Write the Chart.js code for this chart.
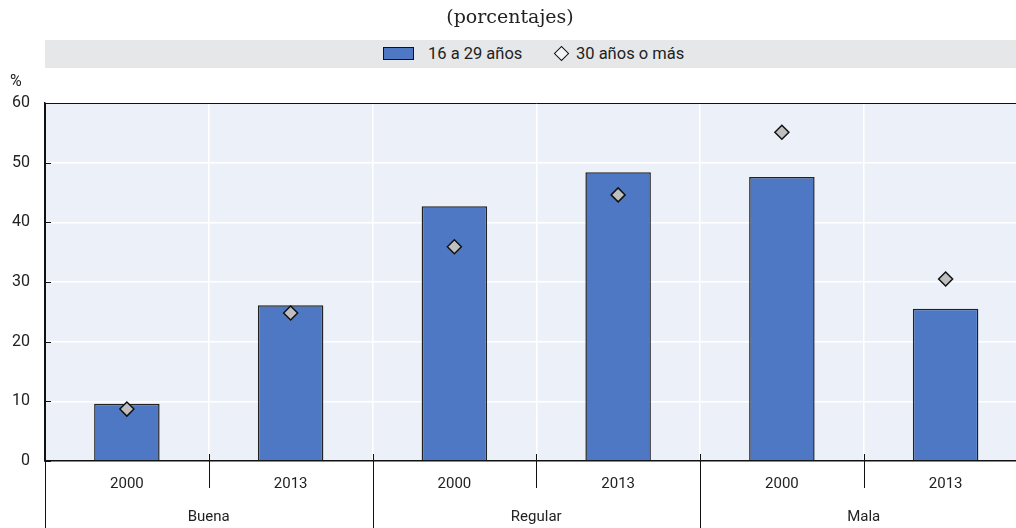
<!DOCTYPE html>
<html>
<head>
<meta charset="utf-8">
<script src="https://cdn.jsdelivr.net/npm/chart.js@4.4.1/dist/chart.umd.min.js"></script>
<style>
  html, body { margin: 0; padding: 0; background: #fff; overflow: hidden; }
  #wrap { position: relative; width: 1016px; height: 528px; overflow: hidden; }
  #title { position: absolute; top: 5px; left: 0; width: 1020px; text-align: center;
    font-family: 'DejaVu Serif', serif; font-size: 19px; color: #222; }
  #legend { position: absolute; top: 40px; left: 45px; width: 971px; height: 28px; background: #e6e7e9;
    font-family: Roboto, 'Liberation Sans', sans-serif; font-size: 16.5px; color: #222; }
  .item { position: absolute; top: 4px; line-height: 19px; }
  .box { position: absolute; left: 383px; top: 47px; width: 29px; height: 11px; background: #4e78c4; border: 1px solid #111; }
  .dia { position: absolute; left: 556px; top: 48px; width: 9px; height: 9px; border: 1.5px solid #111; transform: rotate(45deg); background: #f4f4f4; }
  #chartBox { position: absolute; top: 0; left: 0; width: 1036px; height: 528px; }
</style>
</head>
<body>
<div id="wrap">
  <div id="chartBox"><canvas id="chart"></canvas></div>
  <div id="title">(porcentajes)</div>
  <div id="legend">
    <span class="item" style="left:383px">16 a 29 años</span>
    <span class="item" style="left:531px">30 años o más</span>
  </div>
  <div class="box"></div>
  <div class="dia"></div>
</div>
<script>
const years = ['2000', '2013', '2000', '2013', '2000', '2013'];
const groups = ['Buena', 'Regular', 'Mala'];
const youngValues = [9.6, 26.1, 42.7, 48.4, 47.6, 25.5];
const olderValues = [8.7, 24.8, 35.9, 44.6, 55.1, 30.5];
const yTicks = [0, 10, 20, 30, 40, 50, 60];

// legend boxes sit over the band, so shift the text after them
document.querySelectorAll('.item')[0].style.left = (428 - 45) + 'px';
document.querySelectorAll('.item')[1].style.left = (576 - 45) + 'px';

const groupPlugin = {
  id: 'groupPlugin',
  afterDraw(chart) {
    const { ctx, chartArea, scales } = chart;
    const x = scales.x;
    const half = (x.getPixelForValue(1) - x.getPixelForValue(0)) / 2;
    ctx.save();
    ctx.strokeStyle = '#111';
    ctx.lineWidth = 1;
    // top border
    ctx.beginPath();
    ctx.moveTo(chartArea.left, chartArea.top + 0.5);
    ctx.lineTo(chartArea.right, chartArea.top + 0.5);
    ctx.stroke();
    // left axis down to bottom of canvas
    ctx.beginPath();
    ctx.moveTo(chartArea.left + 0.5, chartArea.top);
    ctx.lineTo(chartArea.left + 0.5, chart.height);
    ctx.stroke();
    // small y ticks inside the plot
    yTicks.forEach(v => {
      const py = Math.round(scales.y.getPixelForValue(v)) + 0.5;
      ctx.beginPath();
      ctx.moveTo(chartArea.left, py);
      ctx.lineTo(chartArea.left + 6, py);
      ctx.stroke();
    });
    // separators below the axis
    for (let i = 0; i < years.length - 1; i++) {
      const px = Math.round(x.getPixelForValue(i) + half) + 0.5;
      const isGroup = i % 2 === 1;
      ctx.beginPath();
      ctx.moveTo(px, chartArea.bottom - 7);
      ctx.lineTo(px, isGroup ? chart.height : chartArea.bottom + 27);
      ctx.stroke();
    }
    // group labels
    ctx.fillStyle = '#222';
    ctx.font = '15px Roboto, "Liberation Sans", sans-serif';
    ctx.textAlign = 'center';
    ctx.textBaseline = 'middle';
    groups.forEach((g, i) => {
      const cx = (x.getPixelForValue(i * 2) + x.getPixelForValue(i * 2 + 1)) / 2;
      ctx.fillText(g, cx, 517);
    });
    // y unit
    ctx.textAlign = 'left';
    ctx.font = '16px Roboto, "Liberation Sans", sans-serif';
    ctx.fillText('%', 10, 82);
    ctx.restore();
  }
};

const bgPlugin = {
  id: 'bgPlugin',
  beforeDraw(chart) {
    const { ctx, chartArea } = chart;
    ctx.save();
    ctx.fillStyle = '#ecf0f9';
    ctx.fillRect(chartArea.left, chartArea.top, chartArea.right - chartArea.left, chartArea.bottom - chartArea.top);
    ctx.restore();
  }
};

new Chart(document.getElementById('chart'), {
  data: {
    labels: years,
    datasets: [
      {
        type: 'line',
        label: '30 años o más',
        data: olderValues,
        showLine: false,
        pointStyle: 'rectRot',
        pointRadius: 7,
        pointHoverRadius: 7,
        pointBackgroundColor: '#bfbfbf',
        pointBorderColor: '#111',
        pointBorderWidth: 1.5,
        order: 0
      },
      {
        type: 'bar',
        label: '16 a 29 años',
        data: youngValues,
        backgroundColor: '#4e78c4',
        borderColor: '#222',
        borderWidth: 1.5,
        barPercentage: 0.4,
        categoryPercentage: 1,
        order: 1
      }
    ]
  },
  options: {
    responsive: true,
    maintainAspectRatio: false,
    animation: false,
    layout: { padding: { top: 103, left: 0, right: 0, bottom: 0 } },
    plugins: { legend: { display: false }, tooltip: { enabled: false } },
    scales: {
      x: {
        offset: true,
        afterFit: s => { s.height = 67; },
        grid: { offset: true, color: '#ffffff', lineWidth: 1.5, drawTicks: false },
        border: { color: '#111', width: 1.5 },
        ticks: { color: '#222', padding: 14, font: { family: 'Roboto, "Liberation Sans", sans-serif', size: 15 } }
      },
      y: {
        min: 0,
        max: 60,
        afterFit: s => { s.width = 45; },
        afterBuildTicks: s => { s.ticks = yTicks.map(v => ({ value: v })); },
        grid: { color: '#ffffff', lineWidth: 1.5, drawTicks: false },
        border: { color: '#111', width: 1.5 },
        ticks: { color: '#222', padding: 15, font: { family: 'Roboto, "Liberation Sans", sans-serif', size: 16 } }
      }
    }
  },
  plugins: [bgPlugin, groupPlugin]
});
</script>
</body>
</html>
